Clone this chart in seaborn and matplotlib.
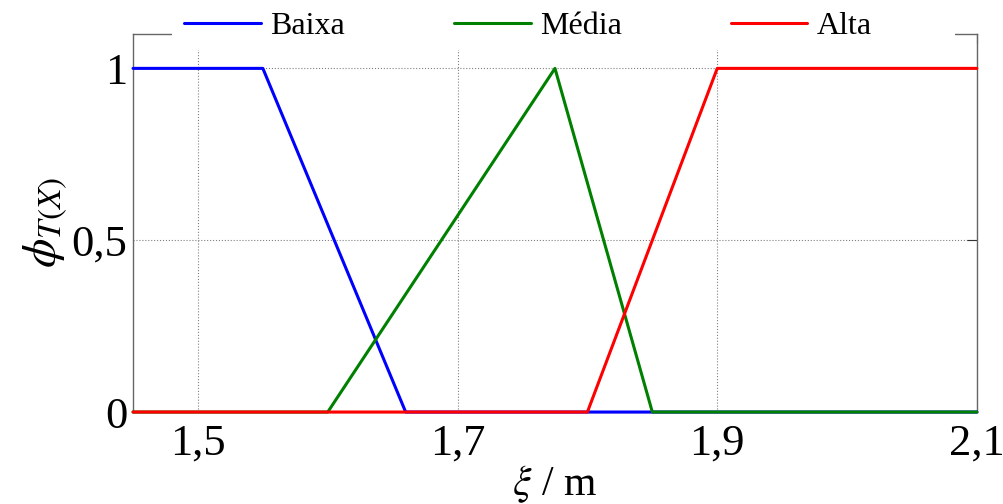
import matplotlib
matplotlib.use("Agg")
import matplotlib.pyplot as plt
import seaborn as sns
import pandas as pd
from matplotlib.patches import Rectangle

# membership functions (breakpoints)
baixa_x = [1.45, 1.55, 1.66, 2.10]
baixa_y = [1.0, 1.0, 0.0, 0.0]
media_x = [1.45, 1.60, 1.775, 1.85, 2.10]
media_y = [0.0, 0.0, 1.0, 0.0, 0.0]
alta_x = [1.45, 1.80, 1.90, 2.10]
alta_y = [0.0, 0.0, 1.0, 1.0]

series = ["Baixa", "Média", "Alta"]
colors = ["#0000ff", "#008000", "#ff0000"]

xticks = [1.5, 1.7, 1.9, 2.1]
xtick_labels = ["1,5", "1,7", "1,9", "2,1"]
yticks = [0, 0.5, 1]
ytick_labels = ["0", "0,5", "1"]

df = pd.concat([
    pd.DataFrame({"x": baixa_x, "y": baixa_y, "serie": "Baixa"}),
    pd.DataFrame({"x": media_x, "y": media_y, "serie": "Média"}),
    pd.DataFrame({"x": alta_x, "y": alta_y, "serie": "Alta"}),
], ignore_index=True)

sns.set_style("white")
plt.rcParams["font.family"] = ["Liberation Serif", "DejaVu Serif"]
plt.rcParams["mathtext.fontset"] = "stix"
plt.rcParams["text.color"] = "black"
plt.rcParams["axes.labelcolor"] = "black"
plt.rcParams["xtick.color"] = "black"
plt.rcParams["ytick.color"] = "black"

fig = plt.figure(figsize=(10.04, 5.04), dpi=100)
ax = fig.add_axes([0.1325, 0.1825, 0.8405, 0.75])

sns.lineplot(data=df, x="x", y="y", hue="serie", hue_order=series,
             palette=colors, estimator=None, sort=False, linewidth=2.2,
             legend=False, ax=ax)
for ln in ax.lines:
    ln.set_clip_on(False)
    ln.set_zorder(3)

ax.set_xlim(1.45, 2.1)
ax.set_ylim(0, 1.1)
ax.set_xticks(xticks)
ax.set_xticklabels(xtick_labels)
ax.set_yticks(yticks)
ax.set_yticklabels(ytick_labels)
ax.tick_params(axis="both", direction="in", length=7, width=0.8, color="#333333",
               labelcolor="black", labelsize=32, top=True, right=True)
ax.tick_params(axis="x", pad=8)
ax.tick_params(axis="y", pad=4)
ax.grid(True, linestyle=":", color="#808080", linewidth=0.8)
for s in ax.spines.values():
    s.set_color("#666666")
    s.set_linewidth(1.0)

ax.set_xlabel(r"$\xi$ / m", fontsize=30, labelpad=0)
ax.set_ylabel(r"$\phi_{T(X)}$", fontsize=34, labelpad=2)

# white legend box hiding the top border like the original
fig.patches.append(Rectangle((0.1713, 0.9008), 0.78, 0.0992, transform=fig.transFigure,
                             facecolor="white", edgecolor="none", zorder=1))

handles = [plt.Line2D([], [], color=c, linewidth=2.2) for c in colors]
fig.legend(handles, series, loc="center", bbox_to_anchor=(0.526, 0.948), ncol=3,
           frameon=False, fontsize=23, handlelength=2.4, handletextpad=0.3,
           columnspacing=3.4)

plt.savefig("out.png", dpi=100)
plt.close(fig)
